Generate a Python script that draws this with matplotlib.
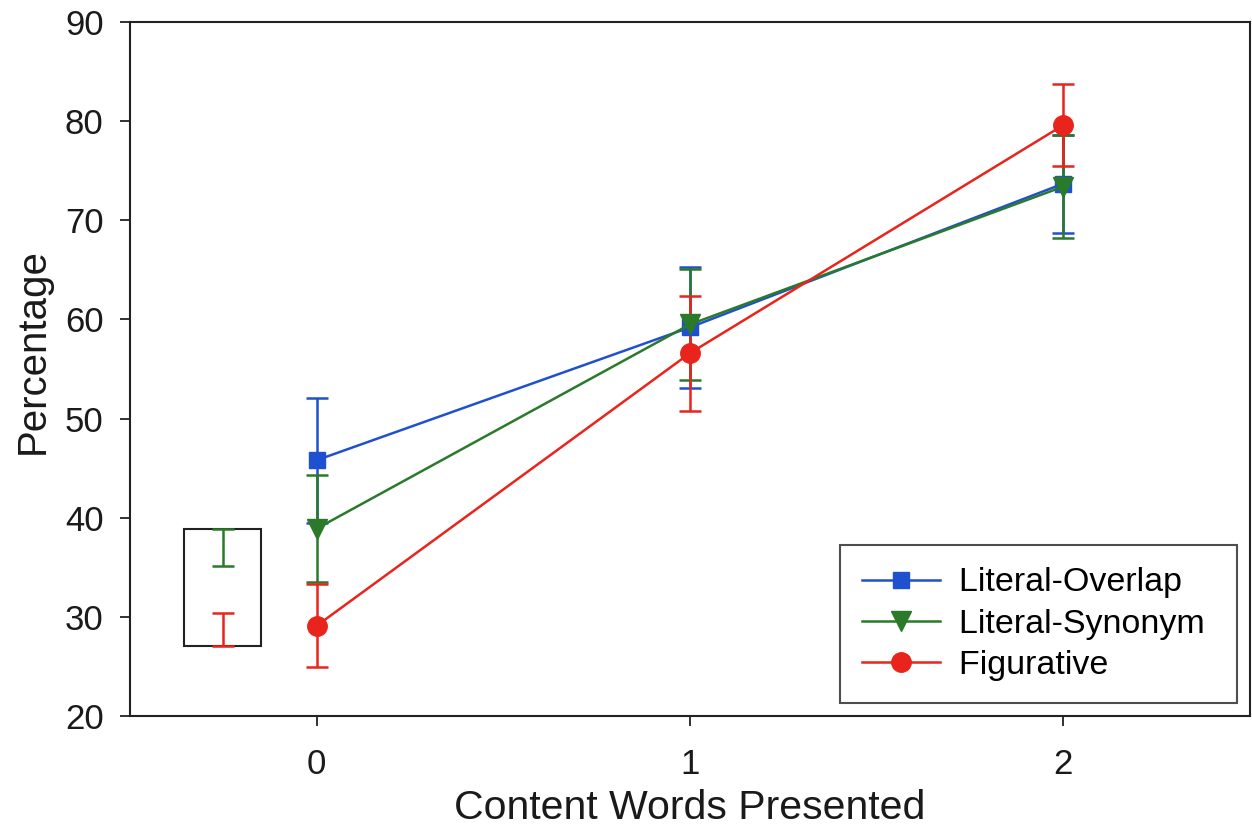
import matplotlib
matplotlib.use("Agg")
import matplotlib.pyplot as plt
from matplotlib.patches import Rectangle
from matplotlib.lines import Line2D

plt.rcParams['font.family'] = ['Liberation Sans', 'DejaVu Sans']

x_vals = [0, 1, 2]
xtick_labels = ["0", "1", "2"]
series_names = ["Literal-Overlap", "Literal-Synonym", "Figurative"]
overlap_mean = [45.8, 59.2, 73.7]
overlap_err = [6.3, 6.1, 4.95]
synonym_mean = [38.9, 59.5, 73.4]
synonym_err = [5.4, 5.6, 5.2]
figurative_mean = [29.1, 56.6, 79.6]
figurative_err = [4.2, 5.8, 4.1]

# small boxed fragment at the left (as in the reference)
inset_x = -0.25
inset_box = [-0.355, 27.06, 0.205, 11.85]  # x, y, width, height in data units
inset_green = [38.9, 35.1]
inset_red = [27.06, 30.4]

colors = ["#1f50d0", "#2a7a2a", "#e8241c"]
markers = ["s", "v", "o"]
msizes = [11.5, 14, 14]
lw = 1.8

fig = plt.figure(figsize=(12.52, 8.34), dpi=100)
ax = fig.add_axes([130/1252, 1 - 716/834, 1120/1252, 694/834])

means = [overlap_mean, synonym_mean, figurative_mean]
errs = [overlap_err, synonym_err, figurative_err]
handles = []
for name, m, e, c, mk, ms in zip(series_names, means, errs, colors, markers, msizes):
    ax.errorbar(x_vals, m, yerr=e, color=c, marker=mk, markersize=ms,
                linewidth=lw, elinewidth=lw, capsize=8, capthick=lw)
    handles.append(Line2D([], [], color=c, marker=mk, markersize=ms,
                          linewidth=lw, label=name + " "))

ax.add_patch(Rectangle((inset_box[0], inset_box[1]), inset_box[2], inset_box[3],
                       fill=False, edgecolor="#222222", linewidth=1.5))
ax.errorbar([inset_x], [inset_green[1]], yerr=[[0], [inset_green[0] - inset_green[1]]],
            color=colors[1], linewidth=lw, capsize=8, capthick=lw, fmt='none')
ax.errorbar([inset_x], [inset_red[1]], yerr=[[inset_red[1] - inset_red[0]], [0]],
            color=colors[2], linewidth=lw, capsize=8, capthick=lw, fmt='none')

ax.set_xlim(-0.5, 2.5)
ax.set_ylim(20, 90)
ax.set_xticks(x_vals)
ax.set_xticklabels(xtick_labels)
ax.set_yticks(range(20, 91, 10))
ax.tick_params(axis='both', labelsize=25, length=7, width=1.3, color="#222222",
               labelcolor="#1a1a1a")
ax.tick_params(axis='x', pad=16)
ax.tick_params(axis='y', pad=12)
ax.tick_params(top=False, right=False)
for s in ax.spines.values():
    s.set_linewidth(1.5)
    s.set_color("#222222")

ax.set_xlabel("Content Words Presented", fontsize=29.5, color="#1a1a1a", labelpad=6)
ax.set_ylabel("Percentage", fontsize=29, color="#1a1a1a")
ax.yaxis.set_label_coords(-0.07, 0.526)

leg = ax.legend(handles=handles, loc='lower right', bbox_to_anchor=(0.988, 0.0187),
                fontsize=24.5, frameon=True, fancybox=False, edgecolor="#222222",
                handlelength=2.3, handletextpad=0.55, labelspacing=0.3,
                borderpad=0.65, borderaxespad=0)
leg.get_frame().set_linewidth(1.5)

fig.savefig("out.png", dpi=100, facecolor="white")
